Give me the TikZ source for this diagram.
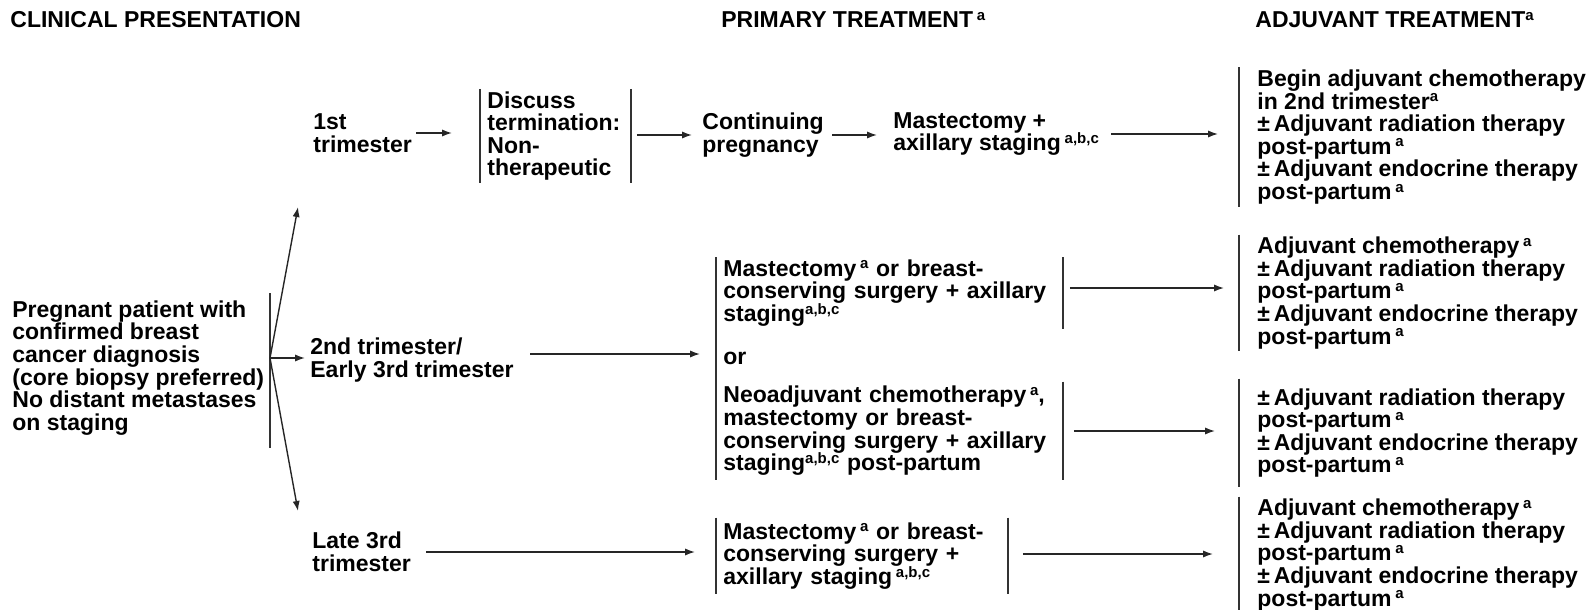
\documentclass[tikz,border=0pt]{standalone}
\usepackage{fontspec}
\setmainfont{Liberation Sans}
\usetikzlibrary{arrows.meta}
\newcommand{\fnm}[1]{\raisebox{0.32em}{\fontsize{7.5pt}{7.5pt}\selectfont #1}}
\newcommand{\tightlines}{\lineskiplimit=-20pt\relax\lineskip=0pt\relax}

\begin{document}
\begin{tikzpicture}[
    x=0.5pt, y=-0.5pt,
    font=\bfseries\fontsize{11.5pt}{11.3pt}\selectfont\tightlines,
    txt/.style={anchor=west, align=left, inner xsep=0pt, inner ysep=1pt},
    brk/.style={anchor=west, align=left, inner xsep=3.5pt, inner ysep=1pt},
    adj/.style={anchor=west, align=left, inner xsep=9pt, inner ysep=1pt},
    bar/.style={line width=1pt, black!80},
    arrow/.style={-{Latex[length=5pt,width=3.6pt]}, line width=0.7pt, black!85}
]
\useasboundingbox (0,0) rectangle (1596,610);

% column heads
\node[txt] (hclin) at (10,20) {CLINICAL PRESENTATION};
\node[txt] (hprim) at (721,20) {PRIMARY TREATMENT\,\fnm{a}};
\node[txt] (hadj) at (1255,20) {ADJUVANT TREATMENT\fnm{a}};

% presentation and fork
\node[txt] (preg) at (12,368) {Pregnant patient with\\confirmed breast\\cancer diagnosis\\(core biopsy preferred)\\No distant metastases\\on staging};
\draw[bar] (270,293) -- (270,448);
\coordinate (fork) at (270,358);
\coordinate (up) at (298,207);
\coordinate (down) at (298,511);

\node[txt] (tri1) at (313,133) {1st\\trimester};
\node[txt] (tri2) at (310,360) {2nd trimester/\\Early 3rd trimester};
\node[txt] (tri3) at (312,552) {Late 3rd\\trimester};

\draw[arrow] (fork) -- (up);
\draw[arrow] (fork) -- (down);
\draw[arrow, shorten >=2.5pt] (fork) -- (fork -| tri2.west);

% primary treatment
\node[brk, text width=68pt] (disc) at (480,136) {Discuss\\termination:\\Non-\\therapeutic};
\node[txt] (cont) at (702,135) {Continuing\\pregnancy};
\node[txt] (mast1) at (893,134) {Mastectomy +\\axillary staging\,\fnm{a,b,c}};

\node[brk, text width=166pt] (opt1) at (716,293) {Mastectomy\,\fnm{a} or breast-\\conserving surgery + axillary\\staging\fnm{a,b,c}};
\node[txt] (orw) at (723,358) {or};
\node[brk, text width=166pt, minimum height=49pt] (opt2) at (716,431) {Neoadjuvant chemotherapy\,\fnm{a},\\mastectomy or breast-\\conserving surgery + axillary\\staging\fnm{a,b,c} post-partum};
\node[brk, text width=138.5pt, minimum height=38pt] (mast3) at (716,556) {Mastectomy\,\fnm{a} or breast-\\conserving surgery +\\axillary staging\,\fnm{a,b,c}};

\foreach \n in {disc, mast3}
    \draw[bar] (\n.north west) -- (\n.south west) (\n.north east) -- (\n.south east);
\draw[bar] (opt1.north west) -- (opt2.south west);
\draw[bar] (opt1.north east) -- (opt1.south east);
\draw[bar] (opt2.north east) -- (opt2.south east);

% adjuvant treatment
\node[adj, minimum height=67pt] (adj1) at (1239,137) {Begin adjuvant chemotherapy\\in 2nd trimester\fnm{a}\\\textpm\,Adjuvant radiation therapy\\post-partum\,\fnm{a}\\\textpm\,Adjuvant endocrine therapy\\post-partum\,\fnm{a}};
\node[adj, minimum height=53.5pt] (adj2) at (1239,293) {Adjuvant chemotherapy\,\fnm{a}\\\textpm\,Adjuvant radiation therapy\\post-partum\,\fnm{a}\\\textpm\,Adjuvant endocrine therapy\\post-partum\,\fnm{a}};
\node[adj, minimum height=54pt] (adj3) at (1239,433) {\textpm\,Adjuvant radiation therapy\\post-partum\,\fnm{a}\\\textpm\,Adjuvant endocrine therapy\\post-partum\,\fnm{a}};
\node[adj, minimum height=55pt] (adj4) at (1239,555) {Adjuvant chemotherapy\,\fnm{a}\\\textpm\,Adjuvant radiation therapy\\post-partum\,\fnm{a}\\\textpm\,Adjuvant endocrine therapy\\post-partum\,\fnm{a}};

\foreach \n in {adj1, adj2, adj3, adj4}
    \draw[bar] (\n.north west) -- (\n.south west);

% connectors
\draw[arrow, shorten <=2pt, shorten >=14pt] (tri1.east) -- (tri1.east -| disc.west);
\draw[arrow, shorten <=3pt, shorten >=5pt] (cont.west -| disc.east) -- (cont.west);
\draw[arrow, shorten <=4pt, shorten >=8pt] (cont.east) -- (cont.east -| mast1.west);
\draw[arrow, shorten <=6pt, shorten >=10.5pt] (mast1.east) -- (mast1.east -| adj1.west);
\draw[arrow, shorten <=8pt, shorten >=8pt] ([yshift=3pt]tri2.east) -- ([yshift=3pt]tri2.east -| opt1.west);
\draw[arrow, shorten <=3.5pt, shorten >=7.5pt] ([yshift=2.5pt]opt1.east) -- ([yshift=2.5pt]opt1.east -| adj2.west);
\draw[arrow, shorten <=5.5pt, shorten >=12pt] (opt2.east) -- (opt2.east -| adj3.west);
\draw[arrow, shorten <=7.5pt, shorten >=10.5pt] (tri3.east) -- (tri3.east -| mast3.west);
\draw[arrow, shorten <=7.5pt, shorten >=13pt] ([yshift=1pt]mast3.east) -- ([yshift=1pt]mast3.east -| adj4.west);

\end{tikzpicture}
\end{document}
